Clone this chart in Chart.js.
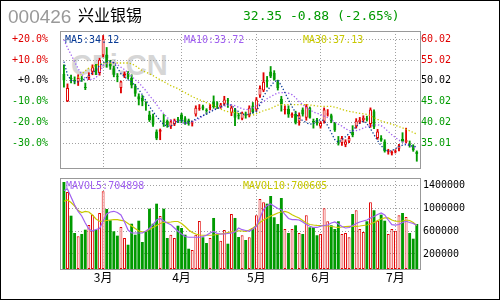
<!DOCTYPE html>
<html><head><meta charset="utf-8">
<script src="https://cdn.jsdelivr.net/npm/chart.js@4/dist/chart.umd.min.js"></script>
<style>
html,body{margin:0;padding:0;background:#fff;}
#wrap{position:relative;width:500px;height:300px;overflow:hidden;background:#fff;}
#frame{position:absolute;left:0;top:0;width:500px;height:300px;box-sizing:border-box;border:1px solid #000;}
canvas{position:absolute;left:0;top:0;}
.t{position:absolute;white-space:nowrap;line-height:1;}
.m{font-family:"DejaVu Sans Mono",monospace;font-size:10px;}
</style></head><body>
<div id="wrap">
<div id="frame"></div>
<div class="t" style="left:71px;top:50.5px;font-family:'Liberation Sans',Arial,sans-serif;font-weight:bold;font-size:29px;color:#d6d6d6;">CFi.CN</div>
<canvas id="pc" width="500" height="300"></canvas>
<canvas id="vc" width="500" height="300"></canvas>
<div class="t" style="left:8px;top:7px;font-family:'Liberation Sans',Arial,sans-serif;font-size:19px;color:#999;">000426</div>
<div class="t" style="left:78px;top:6px;font-family:'Noto Sans CJK SC',sans-serif;font-size:16px;color:#000;">兴业银锡</div>
<div class="t" style="left:243px;top:8.5px;font-family:'DejaVu Sans Mono',monospace;font-size:13px;color:#009900;">32.35 -0.88 (-2.65%)</div>
<div class="t m" style="left:65px;top:34.8px;color:#0a3c96;">MA5:34.12</div>
<div class="t m" style="left:184px;top:34.8px;color:#a060f0;">MA10:33.72</div>
<div class="t m" style="left:303px;top:34.8px;color:#c8c800;">MA30:37.13</div>
<div class="t m" style="left:66px;top:181.2px;color:#a060f0;">MAVOL5:704898</div>
<div class="t m" style="left:243px;top:181.2px;color:#c8c800;">MAVOL10:700605</div>
</div>
<script>
const open = [51.7,45.1,50.6,50.3,49.8,50.5,48.4,50.7,52.2,53.1, 51.9,56.2,56.4,54.2,53.1,51.2,48.3,51.3,51.9,50.7, 48.7,46.3,45.9,44.5,41.9,41.5,37.8,37.7,40.3,40.3, 39.0,39.5,40.6,41.9,41.0,40.5,39.7,41.9,43.3,43.9, 42.9,43.5,45.1,44.5,43.6,44.5,45.2,42.3,43.1,41.6, 40.9,41.8,41.7,44.1,43.1,46.5,47.7,50.3,52.3,51.9, 49.9,45.7,43.0,43.3,41.5,42.0,40.2,43.1,41.1,43.5, 40.2,40.65,39.0,40.2,41.9,41.7,39.85,35.2,35.0,34.6, 35.4,37.7,39.0,40.0,40.5,41.0,39.6,42.7,36.2,36.2, 35.4,32.8,32.5,32.9,33.6,36.0,35.2,34.7,34.2,32.9];
const high = [53.9,49.3,51.4,51.0,51.5,51.1,49.5,52.0,53.9,54.0, 55.5,61.0,58.1,55.0,53.6,51.8,50.0,52.2,52.3,51.5, 49.2,46.9,46.5,45.0,42.7,42.0,38.2,38.4,41.9,40.6, 40.6,40.8,41.2,42.2,41.4,40.8,40.3,44.0,44.3,44.2, 43.3,44.3,46.4,45.0,44.6,46.3,45.8,44.0,43.4,42.2, 42.5,42.5,44.0,44.8,46.0,48.8,52.0,51.1,53.5,52.5, 50.2,46.3,44.0,44.0,42.3,42.7,42.3,43.5,44.3,43.7, 40.8,41.0,40.2,43.5,43.1,42.0,40.0,36.6,36.6,35.8, 36.6,39.2,40.9,41.2,41.6,41.5,43.5,43.0,38.3,36.8, 35.8,33.5,33.1,33.4,34.7,37.5,38.6,35.5,34.6,33.1];
const low = [48.5,45.0,49.5,49.3,48.9,49.9,47.9,50.3,51.5,51.5, 51.4,55.8,53.3,52.8,51.0,49.8,47.1,50.8,50.5,48.3, 46.3,44.2,44.0,42.9,40.2,39.0,35.8,35.8,39.0,38.8, 38.5,39.2,39.9,39.9,39.5,39.3,39.1,41.5,42.9,43.0, 42.0,43.0,43.4,43.3,43.4,44.1,43.6,41.6,39.2,40.8, 40.6,41.0,41.3,42.2,42.7,46.0,47.4,48.5,50.8,50.2, 47.8,42.7,42.0,41.2,41.2,39.6,39.3,41.5,40.5,41.0, 38.6,39.3,38.6,39.8,41.5,39.9,37.8,34.5,34.4,34.1, 35.1,36.5,38.6,39.7,40.1,40.3,38.8,38.5,35.9,35.4, 32.8,32.3,32.1,32.6,33.1,35.2,35.0,34.0,33.0,30.6];
const close = [50.1,48.3,50.5,49.9,50.7,50.4,48.3,51.4,53.3,52.3, 55.1,60.2,54.3,53.5,51.5,51.0,49.9,51.8,50.9,48.9, 46.9,45.5,45.1,44.3,40.5,39.4,36.1,38.2,40.2,39.3, 40.2,40.5,40.5,40.6,40.1,39.6,39.9,43.5,43.5,43.3, 42.8,43.7,43.7,44.3,44.3,45.5,45.1,43.6,41.1,41.5, 42.3,41.6,43.5,42.5,45.5,48.3,49.8,49.8,51.1,50.3, 48.3,44.4,43.2,41.9,42.0,39.9,41.7,41.9,43.9,41.1, 40.1,39.7,39.85,43.1,42.1,40.2,38.1,35.1,36.2,35.4, 36.2,36.9,40.4,40.6,41.1,40.6,43.1,38.8,37.8,35.6, 33.0,32.9,32.9,33.0,34.4,35.4,35.8,34.6,33.23,32.35];
const volume = [1465000,1289000,873000,569000,511000,551000,627000,710000,891000,627000, 920000,1302000,991000,792000,599000,522000,674000,481000,363000,732000, 539000,785000,411000,599000,996000,732000,1084000,868000,996000,481000, 539000,481000,697000,657000,539000,293000,270000,539000,780000,494000, 393000,481000,833000,551000,434000,622000,381000,903000,833000,499000, 529000,446000,494000,657000,880000,1166000,1108000,1084000,1219000,845000, 727000,1184000,639000,569000,639000,704000,569000,551000,880000,669000, 669000,529000,551000,1003000,775000,704000,639000,775000,551000,569000, 494000,903000,968000,639000,587000,775000,1108000,968000,785000,891000, 785000,551000,639000,609000,880000,920000,850000,569000,469000,727000];
const ma5 = [54.66,51.5,50.2,49.8,49.8,50.07,50.55,51.28,52.0,52.7, 53.7,54.4,54.66,54.66,54.4,53.2,51.76,51.0,50.3,49.8, 48.86,47.9,46.7,45.2,43.8,42.6,41.4,40.4,39.4,39.08, 39.08,39.68,40.3,40.65,39.92,40.16,40.3,40.77,41.25,41.6, 41.98,42.46,42.94,43.3,43.79,44.27,44.43,44.1,43.3,42.58, 41.98,41.86,42.0,42.34,42.7,44.27,46.32,47.65,48.74,49.83, 50.19,48.86,47.17,45.48,43.79,42.34,41.0,40.4,39.92,39.56, 39.68,40.4,40.65,40.4,39.2,37.5,35.82,35.2,35.82,36.54, 37.27,37.99,38.96,39.8,40.3,39.68,38.47,37.02,35.58,34.37, 33.4,33.04,33.16,33.64,34.13,34.5,34.61,34.5,34.25,34.12];
const ma10 = [59.97,58.04,56.35,54.66,52.97,51.52,50.67,50.31,50.43,50.79, 52.0,53.69,54.3,54.42,54.42,53.93,53.33,52.73,52.0,51.16, 50.31,49.59,48.62,47.65,46.45,45.48,44.27,43.06,42.1,41.13, 40.53,40.29,40.17,39.92,39.68,39.8,40.04,40.53,40.89,41.61, 42.22,42.7,43.06,43.43,43.67,43.91,44.15,44.27,44.03,43.67, 43.3,43.06,43.18,43.43,44.03,44.51,45.0,45.72,46.2,46.69, 47.1,47.17,47.17,47.05,46.69,45.96,45.0,44.27,43.55,43.06, 42.46,42.22,41.86,41.49,41.13,40.65,40.04,39.56,39.08,38.47, 37.99,37.87,37.99,38.23,38.6,38.96,39.2,39.32,39.44,39.2, 38.6,37.75,37.02,36.3,35.7,35.21,34.73,34.37,34.0,33.72];
const ma30 = [null,null,null,null,50.79,51.64,52.48,53.09,53.45,53.81, 54.1,54.3,54.34,54.34,54.34,54.34,54.34,54.34,54.34,54.17, 53.69,53.09,52.48,52.12,51.76,51.28,50.79,50.31,49.83,49.34, 48.86,48.5,48.14,47.65,47.17,46.69,46.2,45.84,45.48,45.12, 44.75,44.39,44.03,43.55,43.18,42.82,42.58,42.46,42.34,42.22, 42.1,41.86,41.73,41.73,42.1,42.46,42.82,43.06,43.3,43.79, 44.15,44.27,44.27,44.27,44.27,44.27,44.27,44.27,44.27,44.2, 44.08,43.96,43.86,43.86,43.86,43.86,43.67,43.43,43.11,42.87, 42.68,42.51,42.34,42.19,42.05,41.9,41.61,41.13,40.7,40.36, 40.07,39.8,39.54,39.25,38.96,38.67,38.28,37.94,37.56,37.13];
const mavol5 = [1316000,1342000,1201000,1061000,947000,868000,745000,639000,604000,630000, 648000,780000,903000,938000,950000,929000,885000,762000,621000,569000, 569000,569000,569000,604000,648000,715000,797000,824000,780000,745000, 715000,657000,599000,551000,508000,494000,494000,494000,494000,508000, 529000,569000,595000,560000,551000,551000,560000,569000,587000,657000, 627000,613000,599000,639000,687000,833000,982000,1052000,1078000,1038000, 999000,978000,894000,824000,803000,803000,797000,762000,718000,687000, 666000,666000,687000,701000,709000,745000,762000,727000,683000,657000, 666000,701000,736000,762000,780000,797000,833000,859000,894000,920000, 885000,797000,715000,709000,718000,754000,775000,754000,736000,704898];
const mavol10 = [1126000,1148000,1105000,1043000,964000,929000,947000,938000,885000,815000, 775000,775000,789000,797000,803000,803000,792000,780000,736000,692000, 648000,604000,587000,595000,630000,666000,701000,736000,757000,757000, 762000,771000,771000,736000,683000,621000,578000,551000,534000,529000, 529000,529000,534000,543000,551000,560000,578000,587000,595000,608000, 604000,599000,621000,657000,701000,754000,797000,833000,868000,891000, 920000,938000,947000,929000,891000,859000,833000,789000,745000,718000, 709000,704000,701000,696000,692000,683000,674000,669000,674000,683000, 687000,687000,687000,692000,701000,709000,727000,754000,789000,815000, 833000,833000,797000,775000,775000,780000,797000,789000,754000,700605];
const monthIdx = [11, 33, 54, 72, 93];
const monthLabels = ['3月', '4月', '5月', '6月', '7月'];
const priceTicks = [35.01, 40.02, 45.02, 50.02, 55.02, 60.02];
const pctLabels = ['-30.0%', '-20.0%', '-10.0%', '+0.0%', '+10.0%', '+20.0%'];
const volTicks = [200000, 600000, 1000000, 1400000];

const RED = '#e00000', GREEN = '#009a00', GRID = '#a0a0a0';
const MONO = '"DejaVu Sans Mono", monospace';
const idx = close.map((_, i) => i);
const up = idx.map(i => close[i] >= open[i]);
const tickColor = i => i < 3 ? GREEN : (i === 3 ? '#000' : RED);

const frameBox = {
  id: 'frameBox',
  afterDraw(chart) {
    const {ctx, chartArea: a} = chart;
    ctx.save();
    ctx.strokeStyle = '#999';
    ctx.lineWidth = 1;
    ctx.strokeRect(Math.round(a.left) + 0.5, Math.round(a.top) + 0.5,
      Math.round(a.right - a.left), Math.round(a.bottom - a.top));
    ctx.restore();
  }
};

const xAxis = (showLabels, h) => ({
  type: 'linear', min: -1.1, max: 99.9, offset: false, bounds: 'data',
  afterBuildTicks: s => { s.ticks = monthIdx.map(v => ({value: v})); },
  ticks: {display: showLabels, autoSkip: false, maxRotation: 0, padding: 1,
    callback: (v, i) => monthLabels[i], color: '#000',
    font: {family: '"Noto Sans CJK SC", sans-serif', size: 12}},
  grid: {color: GRID, drawTicks: false, offset: false},
  border: {display: false, dash: [1, 2]},
  afterFit: s => { s.height = h; }
});

const PMIN = 28.969, PMAX = 62.074;
const line = (arr, color, dash) => ({
  type: 'line', data: arr.map((v, i) => ({x: i, y: v})), borderColor: color,
  borderWidth: 1.3, borderDash: dash, pointRadius: 0, fill: false, tension: 0,
  order: -1, yAxisID: 'y'
});

new Chart(document.getElementById('pc'), {
  type: 'bar',
  data: {datasets: [
    line(ma5, '#0a3c96', [1.3, 2]),
    line(ma10, '#a060f0', [1.3, 2]),
    line(ma30, '#c8c800', [1.3, 2]),
    {data: idx.map(i => ({x: i, y: [open[i], close[i]]})),
     backgroundColor: idx.map(i => up[i] ? '#fff' : GREEN),
     borderColor: idx.map(i => up[i] ? RED : GREEN),
     borderWidth: 1, borderSkipped: false, barPercentage: 0.85, categoryPercentage: 1,
     grouped: false, minBarLength: 1, order: 0, yAxisID: 'y'},
    {data: idx.map(i => ({x: i, y: [low[i], high[i]]})),
     backgroundColor: idx.map(i => up[i] ? RED : GREEN),
     barThickness: 1.2, grouped: false, order: 1, yAxisID: 'y'}
  ]},
  options: {
    responsive: false, animation: false, events: [],
    layout: {padding: {top: 31, bottom: 132, left: 0, right: 0}},
    plugins: {legend: {display: false}, tooltip: {enabled: false}},
    scales: {
      x: xAxis(false, 0),
      yl: {position: 'left', min: PMIN, max: PMAX,
        afterBuildTicks: s => { s.ticks = priceTicks.map(v => ({value: v})); },
        ticks: {callback: (v, i) => pctLabels[i], color: c => tickColor(c.index),
          font: {family: MONO, size: 10}, padding: 12, autoSkip: false},
        grid: {display: false, drawTicks: false}, border: {display: false},
        afterFit: s => { s.width = 60; }},
      y: {position: 'right', min: PMIN, max: PMAX,
        afterBuildTicks: s => { s.ticks = priceTicks.map(v => ({value: v})); },
        ticks: {callback: v => v.toFixed(2), color: c => tickColor(c.index),
          font: {family: MONO, size: 10}, padding: 1, autoSkip: false},
        grid: {color: GRID, drawTicks: false}, border: {display: false, dash: [1, 2]},
        afterFit: s => { s.width = 80; }}
    }
  },
  plugins: [frameBox]
});

const VMIN = -63500, VMAX = 1535000;
new Chart(document.getElementById('vc'), {
  type: 'bar',
  data: {datasets: [
    {type: 'line', data: mavol5.map((v, i) => ({x: i, y: v})), borderColor: '#a060f0',
     borderWidth: 1.2, pointRadius: 0, fill: false, tension: 0, order: -1, yAxisID: 'y'},
    {type: 'line', data: mavol10.map((v, i) => ({x: i, y: v})), borderColor: '#c8c800',
     borderWidth: 1.2, pointRadius: 0, fill: false, tension: 0, order: -1, yAxisID: 'y'},
    {data: idx.map(i => ({x: i, y: [VMIN, volume[i]]})),
     backgroundColor: idx.map(i => up[i] ? '#fff' : GREEN),
     borderColor: idx.map(i => up[i] ? RED : GREEN),
     borderWidth: idx.map(i => up[i] ? 1 : 0), borderSkipped: false,
     barPercentage: 0.8, categoryPercentage: 1, grouped: false, order: 0, yAxisID: 'y'}
  ]},
  options: {
    responsive: false, animation: false, events: [],
    layout: {padding: {top: 178, bottom: 9, left: 0, right: 0}},
    plugins: {legend: {display: false}, tooltip: {enabled: false}},
    scales: {
      x: xAxis(true, 22),
      yl: {position: 'left', min: VMIN, max: VMAX, ticks: {display: false},
        grid: {display: false, drawTicks: false}, border: {display: false},
        afterFit: s => { s.width = 60; }},
      y: {position: 'right', min: VMIN, max: VMAX,
        afterBuildTicks: s => { s.ticks = volTicks.map(v => ({value: v})); },
        ticks: {callback: v => String(v), color: '#000',
          font: {family: MONO, size: 10}, padding: 3, autoSkip: false},
        grid: {color: GRID, drawTicks: false}, border: {display: false, dash: [1, 2]},
        afterFit: s => { s.width = 80; }}
    }
  },
  plugins: [frameBox]
});
</script>
</body></html>
